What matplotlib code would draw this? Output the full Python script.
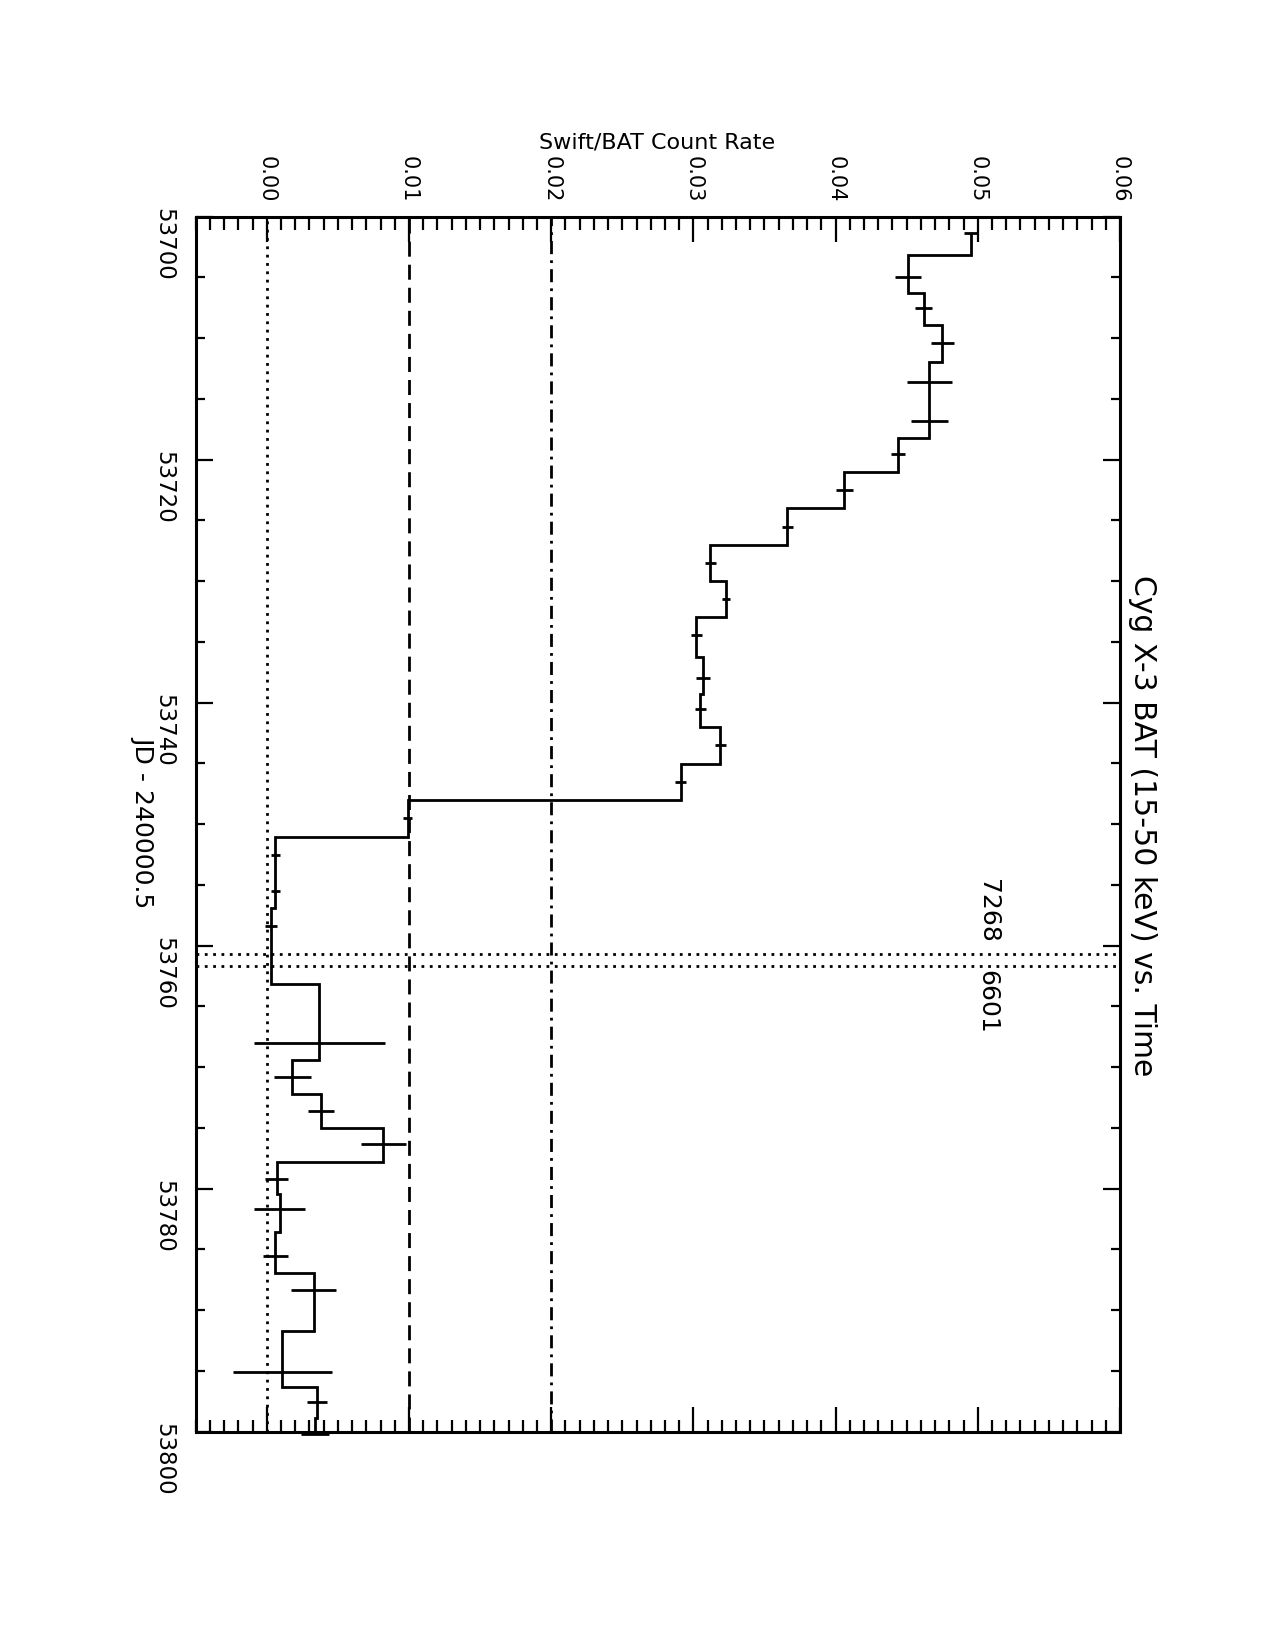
import numpy as np
import matplotlib
matplotlib.use("Agg")
import matplotlib.pyplot as plt
from matplotlib.ticker import MultipleLocator, FormatStrFormatter

# Cyg X-3 Swift/BAT light curve (15-50 keV)
jd = np.array([53701.37, 53704.96, 53707.54, 53710.37, 53713.60, 53716.84, 53719.56, 53722.52,
               53725.51, 53728.53, 53731.49, 53734.43, 53738.00, 53740.54, 53743.50, 53746.53,
               53749.51, 53752.53, 53755.52, 53758.35, 53768.03, 53770.83, 53773.58, 53776.35,
               53779.23, 53781.70, 53785.51, 53788.34, 53795.06, 53797.55, 53800.15])
rate = np.array([0.0495, 0.0451, 0.0462, 0.0475, 0.0466, 0.0466, 0.0444, 0.0406,
                 0.0366, 0.0312, 0.0323, 0.0302, 0.0307, 0.0305, 0.0319, 0.0291,
                 0.0099, 0.0006, 0.0006, 0.0003, 0.0037, 0.0018, 0.0038, 0.0082,
                 0.0007, 0.0009, 0.0006, 0.0033, 0.0011, 0.0035, 0.0034])
rate_err = np.array([0.0005, 0.0009, 0.0006, 0.0008, 0.0016, 0.0013, 0.0005, 0.0006,
                     0.0004, 0.0004, 0.0003, 0.0004, 0.0005, 0.0004, 0.0004, 0.0004,
                     0.0003, 0.0003, 0.0003, 0.0004, 0.0046, 0.0013, 0.0009, 0.0016,
                     0.0008, 0.0018, 0.0009, 0.0016, 0.0035, 0.0007, 0.0010])

ref_levels = [0.0, 0.01, 0.02]
ref_styles = [(0, (1, 2)), (0, (5.4, 2.9)), (0, (4.7, 2.2, 1, 2.2))]
obs_jd = [53760.68, 53761.67]
obs_ids = ["7268", "6601"]

plt.rcParams['font.family'] = ['DejaVu Sans']

fig = plt.figure(figsize=(12.75, 16.5), dpi=100)
ax = fig.add_axes([0.1535, 0.1323, 0.7249, 0.7364])

# histogram-style steps, edges halfway between points (like IDL psym=10)
mids = (jd[:-1] + jd[1:]) / 2
edges = np.concatenate([[jd[0]], mids, [jd[-1]]])
ax.stairs(rate, edges, orientation='horizontal', baseline=None, color='k', lw=2)

eb = ax.errorbar(rate, jd, xerr=rate_err, fmt='none', ecolor='k', elinewidth=2, capsize=0)
for c in eb[2]:
    c.set_clip_on(False)

for lev, st in zip(ref_levels, ref_styles):
    ax.axvline(lev, color='k', lw=2, ls=st, dash_capstyle='butt')
for t in obs_jd:
    ax.axhline(t, color='k', lw=2, ls=(0, (1, 2)), dash_capstyle='butt')

ax.text(0.0507, obs_jd[0] - 0.9, obs_ids[0], rotation=-90, ha='center', va='bottom', fontsize=18)
ax.text(0.0507, obs_jd[1] + 0.35, obs_ids[1], rotation=-90, ha='center', va='top', fontsize=18)

ax.set_xlim(-0.005, 0.06)
ax.set_ylim(53800, 53700)

for s in ax.spines.values():
    s.set_linewidth(2.2)

ax.xaxis.set_major_locator(MultipleLocator(0.01))
ax.xaxis.set_minor_locator(MultipleLocator(0.001))
ax.xaxis.set_major_formatter(FormatStrFormatter('%.2f'))
ax.yaxis.set_major_locator(MultipleLocator(20))
ax.yaxis.set_minor_locator(MultipleLocator(5))
ax.yaxis.set_major_formatter(FormatStrFormatter('%d'))

ax.tick_params(axis='x', which='both', direction='in', top=True, bottom=True,
               labeltop=True, labelbottom=False, width=1.6, labelrotation=-90,
               labelsize=15, pad=10)
ax.tick_params(axis='x', which='major', length=18)
ax.tick_params(axis='x', which='minor', length=9)
ax.tick_params(axis='y', which='both', direction='in', left=True, right=True,
               width=1.6, labelrotation=-90, labelsize=16.5, pad=15)
ax.tick_params(axis='y', which='major', length=12)
ax.tick_params(axis='y', which='minor', length=6.5)

fig.text(657 / 1275, 1 - 142 / 1650, "Swift/BAT Count Rate", ha='center', va='center', fontsize=16)
fig.text(143 / 1275, 1 - 822 / 1650, "JD - 240000.5", rotation=-90, ha='center', va='center', fontsize=18)
fig.text(1142.5 / 1275, 1 - 826 / 1650, "Cyg X-3 BAT (15-50 keV) vs. Time", rotation=-90,
         ha='center', va='center', fontsize=21.5)

plt.savefig("out.png", dpi=100)
